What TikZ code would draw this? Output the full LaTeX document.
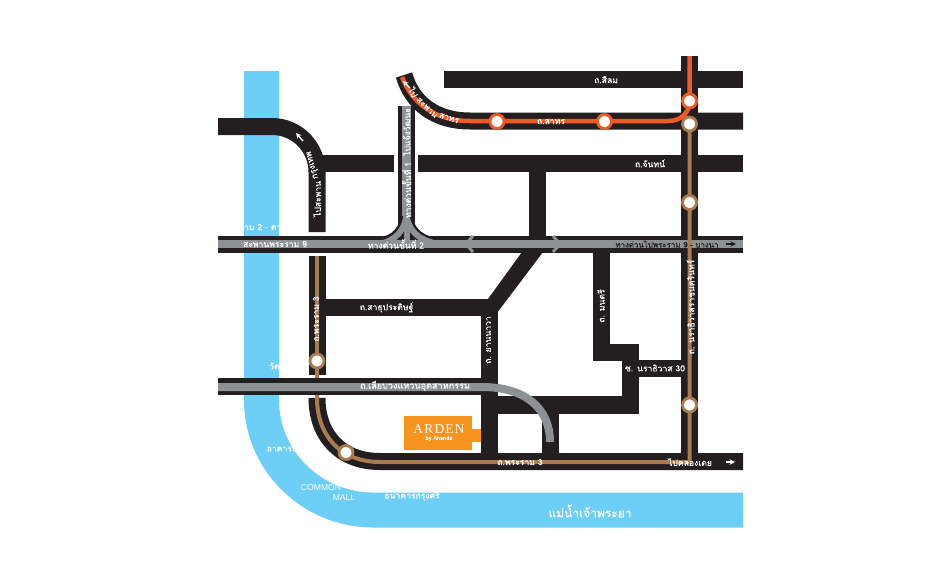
\documentclass[tikz,border=0pt]{standalone}
\usepackage{fontspec}
\usepackage{xcolor}
\usepackage{tikz}
\setmainfont[Script=Thai,FakeBold=0.35]{Loma}
\newfontfamily\ardenfont[LetterSpace=9]{Liberation Serif}
\newfontfamily\latinfont{Liberation Sans}
\definecolor{riverblue}{HTML}{6DCFF6}
\definecolor{roadblack}{HTML}{231F20}
\definecolor{waygrey}{HTML}{8D9194}
\definecolor{btsorange}{HTML}{F15A24}
\definecolor{mrtbrown}{HTML}{A97C50}
\definecolor{ardenorange}{HTML}{F7941E}
\tikzset{
 river/.style={riverblue,line width=35pt},
 road/.style={roadblack,line width=17pt},
 way/.style={waygrey,line width=8pt},
 wlabel/.style={text=white,inner sep=0pt,font=\fontsize{8.6}{10}\selectfont},
 blabel/.style={text=roadblack,inner sep=0pt,font=\fontsize{7.9}{10}\selectfont},
 pointer/.style={line width=1.4pt,-stealth}
}
\begin{document}
\begin{tikzpicture}[x=1pt,y=-1pt]
\useasboundingbox (0,0) rectangle (950,570);
\draw[river] (261.5,71) -- (261.5,400) .. controls (261.5,461) and (312,510) .. (373,510) -- (743,510);
\node[wlabel] (lblrama2) at (255,227) {สะพานพระราม 2 - ดาวคะนอง};
\node[wlabel] (lblwat) at (285,366) {วัดด่านฯ};
\node[wlabel] (lblbldg) at (293,449) {อาคารธนชาต};
\node[wlabel,font=\latinfont\fontsize{8.6}{10}\selectfont] (lblcommon) at (321,488) {COMMON};
\node[wlabel,font=\latinfont\fontsize{8.6}{10}\selectfont] (lblmall) at (344,498) {MALL};
\node[wlabel] (lblbank) at (412,496) {ธนาคารกรุงศรี};

\draw[road] (444,79.5) -- (743,79.5);
\draw[road] (689.5,56) -- (689.5,470);
\draw[road] (743,121) -- (470,121) .. controls (435,121) and (412,103) .. (404,75);
\draw[road] (322,163.5) -- (394,163.5);
\draw[road] (418,163.5) -- (743,163.5);
\draw[road] (218,126.5) -- (272,126.5) .. controls (297,126.5) and (317,147) .. (317,172) -- (317,232);
\draw[road] (537,172) -- (537,236);
\draw[road] (317,256) -- (317,375);
\draw[road] (317,398) .. controls (317,435) and (340,461.5) .. (380,461.5) -- (743,461.5);
\draw[road] (325,307.5) -- (489,307.5);
\draw[road] (489,299) -- (489,470);
\fill[roadblack] (522,252) -- (543,252) -- (497,313) -- (481,316) -- (481,299) -- (488,299) -- cycle;
\draw[road] (601,252) -- (601,361);
\draw[road] (593,352.5) -- (639,352.5);
\draw[road] (630.5,344) -- (630.5,414);
\draw[road] (622,368.5) -- (681,368.5);
\draw[roadblack,line width=18pt] (497,404.5) -- (639,404.5);
\draw[road] (550.5,414) -- (550.5,453);
\draw[road] (218,386.5) -- (497,386.5);
\draw[road] (218,244) -- (743,244);
\fill[ardenorange] (472,429) rectangle (481,442);
\fill[ardenorange] (404,416) rectangle (472,450);

\draw[road] (406.5,106) -- (406.5,236);
\draw[roadblack,line width=11pt] (406.5,212) .. controls (406,230) and (396,240) .. (381,243);
\draw[roadblack,line width=11pt] (406.5,212) .. controls (407,230) and (418,240) .. (434,243);
\draw[way,line width=9pt] (406.5,106) -- (406.5,216);
\draw[way,line width=6pt] (406.5,212) .. controls (406,230) and (396,240) .. (380,244);
\draw[way,line width=6pt] (406.5,212) .. controls (407,230) and (418,240) .. (438,244);
\draw[way,line width=6pt] (406.5,212) -- (406.5,244);
\draw[way] (218,244) -- (743,244);
\draw[waygrey,line width=3pt] (473,236) -- (466,244) -- (473,252);
\draw[waygrey,line width=3pt] (553,236) -- (560,244) -- (553,252);
\draw[way] (218,387) -- (482,387) .. controls (525,387) and (550,408) .. (550,442);

\draw[mrtbrown,line width=4pt] (317,256) -- (317,378);
\draw[mrtbrown,line width=4pt] (317,395) -- (317,398) .. controls (317,435) and (340,462) .. (380,462) -- (689.5,462) -- (689.5,124);
\draw[btsorange,line width=4.5pt] (402,77) .. controls (412,103) and (435,121) .. (470,121) -- (668,121) .. controls (681,121) and (689.5,113) .. (689.5,101) -- (689.5,56);
\foreach \cx/\cy in {689.5/101,497/121.5,604.5/121.5}
 \draw[btsorange,line width=2.8pt,fill=white] (\cx,\cy) circle (7);
\foreach \cx/\cy in {689.5/124,689.5/202.5,689.5/405,317/361,346/452.5}
 \draw[mrtbrown,line width=2.8pt,fill=white] (\cx,\cy) circle (7);

\node[wlabel] (lblsilom) at (606,79.5) {ถ.สีลม};
\node[wlabel] (lblsathorn) at (551,121.5) {ถ.สาทร};
\node[wlabel] (lblchan) at (650,163.5) {ถ.จันทน์};
\node[wlabel,rotate=-62] (lbltak1) at (413.5,92) {ไป};
\node[wlabel,rotate=-44] (lbltak2) at (427,107.5) {สะพาน};
\node[wlabel,rotate=-18] (lbltak3) at (449,118) {สาทร};
\node[wlabel,rotate=90] (lblbkk1) at (317,199) {ไปสะพาน};
\node[wlabel,rotate=105] (lblbkk2) at (313,165) {กรุงเทพ};
\node[wlabel,rotate=90] (lblcheng) at (406.5,132) {ไปแจ้งวัฒนะ};
\node[wlabel,rotate=90] (lblstep1) at (406.5,190) {ทางด่วนขั้นที่ 1};
\node[wlabel] (lblbridge) at (275,244) {สะพานพระราม 9};
\node[wlabel] (lblstep2) at (396,244) {ทางด่วนขั้นที่ 2};
\node[blabel] (lblbangna) at (667,244) {ทางด่วนไปพระราม 9 - บางนา};
\node[wlabel,rotate=90] (lblrama3v) at (316,319) {ถ.พระราม 3};
\node[wlabel] (lblsathu) at (386.5,307.5) {ถ.สาธุประดิษฐ์};
\node[wlabel,font=\fontsize{9.1}{10}\selectfont] (lblring) at (415,386) {ถ.เลียบวงแหวนอุตสาหกรรม};
\node[wlabel,rotate=90] (lblyan) at (488.5,340) {ถ. ยานนาวา};
\node[wlabel,rotate=90] (lblmon) at (601,306) {ถ. มนตรี};
\node[wlabel] (lblsoi) at (655,368) {ซ. นราธิวาส 30};
\node[wlabel,rotate=90] (lblnara) at (690.5,307) {ถ. นราธิวาสราชนครินทร์};
\node[wlabel] (lblrama3h) at (520,462) {ถ.พระราม 3};
\node[wlabel] (lbltoei) at (690,462) {ไปคลองเตย};
\node[wlabel,font=\fontsize{12}{14}\selectfont] (lblriver) at (590,511) {แม่น้ำเจ้าพระยา};
\node[text=white,inner sep=0pt,font=\ardenfont\fontsize{13.5}{15}\selectfont] (lblarden) at (439,429.5) {ARDEN};
\node[text=white,inner sep=0pt,font=\fontsize{5.5}{6}\selectfont] (lblananda) at (439,438.5) {by Ananda};

\coordinate (tipa) at (296,133);
\coordinate (taila) at (303,141);
\coordinate (tipb) at (403,81);
\coordinate (tailb) at (410,88);
\coordinate (tipc) at (736,244);
\coordinate (tailc) at (726,244);
\coordinate (tipd) at (735,462);
\coordinate (taild) at (726,462);
\draw[pointer,white] (taila) -- (tipa);
\draw[pointer,white] (tailb) -- (tipb);
\draw[pointer,roadblack] (tailc) -- (tipc);
\draw[pointer,white] (taild) -- (tipd);
\end{tikzpicture}
\end{document}
